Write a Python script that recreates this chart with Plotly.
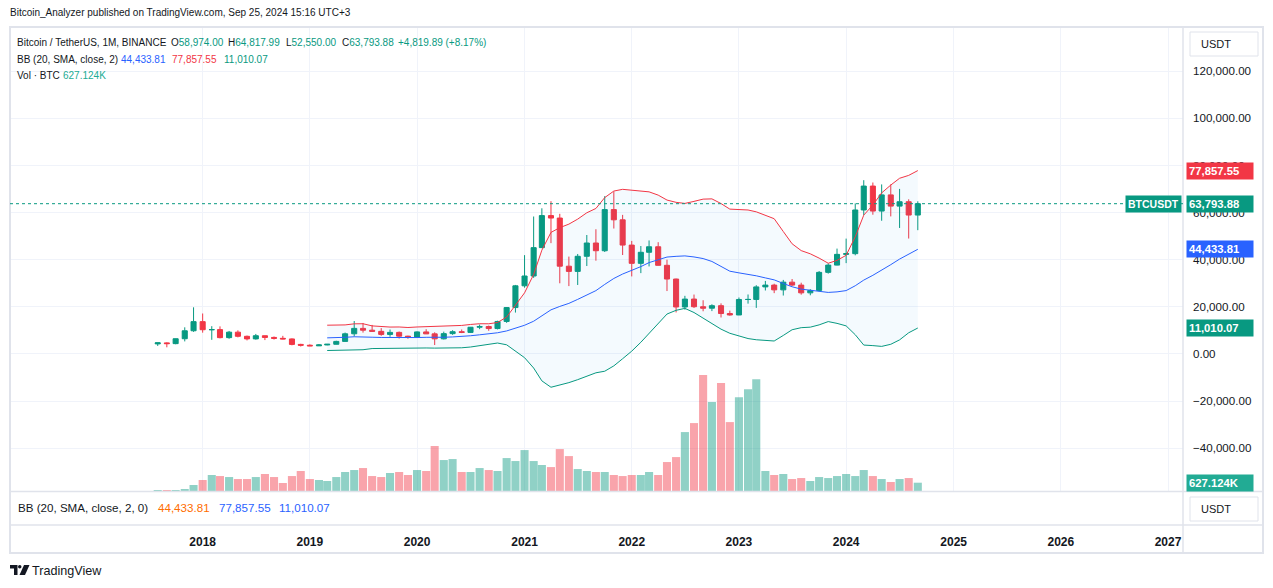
import pandas as pd
import plotly.graph_objects as go

# ============================
# Dados mensais BTC/USDT (Binance)
# ============================
months = pd.date_range("2017-08-01", "2024-09-01", freq="MS")

opens = [
    4261.48, 4689.89, 4378.49, 6463.00, 9837.00,
    13715.65, 10285.10, 10325.64, 6922.00, 9246.01, 7485.01, 6391.08, 7735.67, 7011.21, 6626.57, 6369.52, 4041.27,
    3701.23, 3434.10, 3814.26, 4102.44, 5321.94, 8555.00, 10854.10, 10080.53, 9600.90, 8284.34, 9152.61, 7540.63,
    7195.24, 9351.71, 8523.61, 6412.14, 8620.00, 9448.27, 9138.08, 11335.46, 11649.51, 10776.59, 13791.00, 19695.87,
    28923.63, 33092.97, 45134.11, 58739.46, 57697.25, 37254.24, 35045.00, 41461.84, 47100.89, 43820.01, 61299.81, 56950.56,
    46216.93, 38466.90, 43160.00, 45510.35, 37631.83, 31801.05, 19942.21, 23296.36, 20048.44, 19422.61, 20490.74, 17165.53,
    16541.77, 23125.13, 23141.57, 28465.36, 29233.20, 27210.36, 30471.99, 29232.26, 25940.77, 26962.57, 34639.78, 37723.97,
    42283.58, 42580.00, 61130.99, 71280.00, 60672.01, 67540.01, 62772.01, 64628.01, 58974.00,
]
highs = [
    4745.42, 4939.19, 6498.01, 11300.03, 19798.68,
    17176.24, 11786.01, 11710.00, 9759.82, 10020.00, 7786.69, 8491.77, 7750.00, 7410.00, 7680.00, 6615.15, 4312.99,
    4069.80, 4198.00, 4140.00, 5600.00, 9074.26, 13970.00, 13147.08, 12325.00, 10954.22, 10370.00, 9513.68, 7750.00,
    9578.00, 10500.00, 9188.00, 9460.00, 10067.00, 10380.00, 11444.00, 12468.00, 12050.85, 14100.00, 19863.16, 29300.00,
    41950.00, 58352.80, 61844.00, 64854.00, 59500.00, 41330.00, 42448.00, 50500.00, 52943.65, 67000.00, 69000.00, 59053.55,
    47990.00, 45821.00, 48189.84, 47444.11, 40023.77, 31982.97, 24668.00, 25211.32, 22799.00, 21085.00, 21480.65, 18387.95,
    23960.54, 25250.00, 29184.68, 31000.00, 29820.00, 31431.94, 31804.20, 30244.00, 27483.57, 35198.00, 38450.00, 44729.58,
    48969.48, 63913.13, 73777.00, 72797.99, 71979.00, 71997.02, 70079.99, 65659.78, 64817.99,
]
lows = [
    3400.00, 2817.00, 4110.00, 5325.01, 9380.00,
    9035.00, 6000.01, 6600.10, 6430.00, 7032.95, 5750.00, 6070.00, 5880.00, 6111.00, 6205.00, 3652.66, 3156.26,
    3349.92, 3373.10, 3689.12, 4067.00, 5316.20, 7444.58, 9060.96, 9320.00, 7710.00, 7300.00, 6515.00, 6435.00,
    6871.04, 8445.00, 3782.13, 6150.11, 8117.00, 8833.00, 8893.03, 10518.50, 9825.00, 10416.69, 13195.05, 17572.33,
    28130.00, 32296.16, 44950.53, 47044.01, 30000.00, 28805.00, 29278.00, 37332.70, 39600.00, 43283.03, 53256.64, 42000.30,
    32917.17, 34322.28, 37155.00, 37578.20, 26700.00, 17622.00, 18781.00, 19520.00, 18125.98, 18190.00, 15476.00, 16256.30,
    16499.01, 21351.07, 19549.09, 26942.82, 25811.46, 24800.00, 28861.90, 25166.00, 24901.00, 26538.66, 34097.39, 37615.86,
    38555.00, 41884.64, 59005.00, 59120.00, 56552.82, 58402.00, 53485.93, 49000.00, 52550.00,
]
closes = [
    4724.89, 4378.51, 6463.00, 9838.96, 13716.36,
    10285.10, 10326.50, 6923.91, 9246.01, 7485.01, 6390.07, 7730.93, 7011.21, 6626.57, 6371.93, 4041.32, 3702.90,
    3434.10, 3813.69, 4103.95, 5320.81, 8555.00, 10854.10, 10080.53, 9600.86, 8284.34, 9152.61, 7541.89, 7195.23,
    9352.89, 8523.61, 6410.44, 8620.00, 9448.27, 9138.55, 11335.46, 11649.51, 10776.59, 13791.00, 19695.87, 28923.63,
    33092.98, 45135.66, 58740.55, 57694.27, 37253.81, 35045.00, 41461.83, 47100.89, 43824.10, 61299.80, 56950.56, 46216.93,
    38466.90, 43160.00, 45510.34, 37630.80, 31801.04, 19942.21, 23293.32, 20050.02, 19422.61, 20490.74, 17163.64, 16542.40,
    23125.13, 23141.57, 28465.36, 29233.21, 27210.35, 30472.00, 29232.25, 25940.78, 26962.56, 34639.77, 37723.96, 42283.58,
    42580.00, 61130.98, 71280.01, 60672.00, 67540.01, 62772.01, 64628.00, 58973.99, 63793.88,
]
# volume em milhares de BTC
volumes_k = [
    75, 76, 78, 150, 455,
    830, 1210, 1130, 1055, 905, 905, 1055, 1285, 1055, 605, 1130, 1510,
    905, 830, 755, 1055, 1435, 1585, 1735, 1130, 1055, 1360, 1435, 1210,
    1585, 1510, 3400, 2340, 2415, 1435, 1435, 1735, 1585, 1510, 2490, 2265,
    3095, 2265, 1965, 1810, 3170, 2640, 1660, 1510, 1435, 1435, 1210, 1130,
    1210, 1210, 1435, 1210, 2190, 2565, 4455, 5135, 8760, 6720, 8155, 5210,
    7095, 7700, 8455, 1510, 1210, 1285, 905, 980, 755, 1055, 980, 1130,
    1285, 1130, 1585, 1130, 905, 680, 905, 980, 627.124,
]
year_ticks = [str(y) for y in range(2018, 2028)]

GREEN = "#089981"
RED = "#F23645"
BLUE = "#2962FF"
TEXT = "#131722"
GRID = "#f0f3fa"
BORDER = "#e0e3eb"
FONT = "Liberation Sans, Arial, sans-serif"

df = pd.DataFrame({"date": months, "open": opens, "high": highs, "low": lows,
                   "close": closes, "vol": [v * 1000 for v in volumes_k]})

# Bollinger (20, SMA, close, 2)
df["basis"] = df["close"].rolling(20).mean()
dev = df["close"].rolling(20).std(ddof=0)
df["upper"] = df["basis"] + 2 * dev
df["lower"] = df["basis"] - 2 * dev
bb = df.dropna(subset=["basis"])

last = df.iloc[-1]
chg = last["close"] - df.iloc[-2]["close"]
chg_pct = chg / df.iloc[-2]["close"] * 100


# conversao pixel -> coordenadas "paper"
def px_x(p):
    return (p - 10) / 1173


def px_y(p):
    return (525 - p) / 497


fig = go.Figure()

# volume (eixo sobreposto)
vol_colors = ["rgba(8,153,129,0.45)" if c >= o else "rgba(242,54,69,0.45)"
              for o, c in zip(df["open"], df["close"])]
fig.add_trace(go.Bar(x=df["date"], y=df["vol"], marker_color=vol_colors,
                     marker_line_width=0, width=27.5 * 86400000, yaxis="y2"))

# bandas
fig.add_trace(go.Scatter(x=bb["date"], y=bb["upper"], mode="lines",
                         line=dict(color=RED, width=1)))
fig.add_trace(go.Scatter(x=bb["date"], y=bb["lower"], mode="lines",
                         line=dict(color=GREEN, width=1), fill="tonexty",
                         fillcolor="rgba(33,150,243,0.05)"))
fig.add_trace(go.Scatter(x=bb["date"], y=bb["basis"], mode="lines",
                         line=dict(color=BLUE, width=1)))

# velas
fig.add_trace(go.Candlestick(
    x=df["date"], open=df["open"], high=df["high"], low=df["low"], close=df["close"],
    increasing=dict(line=dict(color=GREEN, width=1), fillcolor=GREEN),
    decreasing=dict(line=dict(color=RED, width=1), fillcolor=RED),
    whiskerwidth=0,
))

# painel inferior vazio (apenas para o eixo de tempo)
fig.add_trace(go.Scatter(x=[df["date"].iloc[0]], y=[0.5], mode="markers",
                         marker=dict(opacity=0), xaxis="x2", yaxis="y3"))

fig.update_layout(
    width=1273, height=588,
    margin=dict(l=10, r=90, t=28, b=63),
    paper_bgcolor="white", plot_bgcolor="white",
    showlegend=False, hovermode=False, boxgap=0.12,
    font=dict(family=FONT, size=12, color=TEXT),
    xaxis=dict(type="date", range=["2016-03-16", "2027-02-21"], anchor="y",
               showticklabels=False, showgrid=True, gridcolor=GRID,
               tickvals=[f"{y}-01-01" for y in year_ticks],
               zeroline=False, showline=False, rangeslider=dict(visible=False)),
    xaxis2=dict(type="date", matches="x", anchor="y3", showgrid=False,
                tickvals=[f"{y}-01-01" for y in year_ticks],
                ticktext=[f"<b>{y}</b>" for y in year_ticks],
                tickfont=dict(size=12, color=TEXT), ticks="outside", ticklen=6,
                tickcolor="rgba(0,0,0,0)", zeroline=False, showline=False),
    yaxis=dict(domain=[px_y(491), 1], range=[-58200, 138400], side="right",
               tickvals=list(range(-40000, 120001, 20000)), tickformat=",.2f",
               tickfont=dict(size=11.6, color=TEXT), gridcolor=GRID,
               zeroline=False, showline=False, ticks="", ticklabelstandoff=9),
    yaxis2=dict(overlaying="y", range=[0, 35.0e6], visible=False),
    yaxis3=dict(domain=[0, px_y(492)], range=[0, 1], visible=False),
)

shapes = []
# moldura e separadores
shapes.append(dict(type="rect", xref="paper", yref="paper", x0=px_x(10), x1=px_x(1263),
                   y0=px_y(553), y1=px_y(27), line=dict(color=BORDER, width=2)))
for yy in (491.5, 525):
    shapes.append(dict(type="line", xref="paper", yref="paper", x0=px_x(10), x1=px_x(1263),
                       y0=px_y(yy), y1=px_y(yy), line=dict(color=BORDER, width=1.5)))
shapes.append(dict(type="line", xref="paper", yref="paper", x0=1, x1=1,
                   y0=px_y(553), y1=px_y(27), line=dict(color=BORDER, width=1.5)))
# linha do ultimo preco
shapes.append(dict(type="line", xref="paper", yref="y", x0=0, x1=1,
                   y0=last["close"], y1=last["close"], line=dict(color=GREEN, width=1, dash="dot")))
# caixas USDT
for top, bot in ((32, 56), (497, 521)):
    shapes.append(dict(type="rect", xref="paper", yref="paper", x0=px_x(1190), x1=px_x(1258),
                       y0=px_y(bot), y1=px_y(top), line=dict(color=BORDER, width=1),
                       fillcolor="white"))
# logo TradingView
shapes.append(dict(type="path", xref="paper", yref="paper", fillcolor=TEXT, line=dict(width=0),
                   path=(f"M {px_x(10)},{px_y(565)} L {px_x(17.5)},{px_y(565)} L {px_x(17.5)},{px_y(575)} "
                         f"L {px_x(14)},{px_y(575)} L {px_x(14)},{px_y(568.5)} L {px_x(10)},{px_y(568.5)} Z")))
shapes.append(dict(type="circle", xref="paper", yref="paper", fillcolor=TEXT, line=dict(width=0),
                   x0=px_x(18), x1=px_x(21.5), y0=px_y(568.5), y1=px_y(565)))
shapes.append(dict(type="path", xref="paper", yref="paper", fillcolor=TEXT, line=dict(width=0),
                   path=(f"M {px_x(24)},{px_y(565)} L {px_x(29.5)},{px_y(565)} L {px_x(25)},{px_y(575)} "
                         f"L {px_x(19.5)},{px_y(575)} Z")))
fig.update_layout(shapes=shapes)


def txt(x, y, text, size=10, color=TEXT, **kw):
    fig.add_annotation(xref="paper", yref="paper", x=px_x(x), y=px_y(y), text=text,
                       showarrow=False, xanchor="left", yanchor="middle",
                       font=dict(family=FONT, size=size, color=color), **kw)


def g(v):
    return f'<span style="color:{GREEN}">{v}</span>'


txt(8, 12, "Bitcoin_Analyzer published on TradingView.com, Sep 25, 2024 15:16 UTC+3", size=10)
txt(15, 42.5, "Bitcoin / TetherUS, 1M, BINANCE")
txt(169, 42.5, "O" + g(f"{last['open']:,.2f}"))
txt(226, 42.5, "H" + g(f"{last['high']:,.2f}"))
txt(284, 42.5, "L" + g(f"{last['low']:,.2f}"))
txt(340, 42.5, "C" + g(f"{last['close']:,.2f}"))
txt(396, 42.5, g(f"+{chg:,.2f} (+{chg_pct:.2f}%)"))
txt(15, 59.5, "BB (20, SMA, close, 2)")
txt(119, 59.5, f"{last['basis']:,.2f}", color=BLUE)
txt(170, 59.5, f"{last['upper']:,.2f}", color=RED)
txt(222, 59.5, f"{last['lower']:,.2f}", color=GREEN)
txt(15, 76, "Vol · BTC")
txt(61, 76, f"{last['vol'] / 1000:.3f}K", color="#22ab94")
txt(16, 507, "BB (20, SMA, close, 2, 0)", size=11.6)
txt(156, 507, f"{last['basis']:,.2f}", size=11.6, color="#FF6D00")
txt(217, 507, f"{last['upper']:,.2f}", size=11.6, color=BLUE)
txt(277, 507, f"{last['lower']:,.2f}", size=11.6, color=BLUE)
txt(30, 570.5, "TradingView", size=12.6)
txt(1199, 44, "USDT", size=11)
txt(1199, 509, "USDT", size=11)


# etiquetas no eixo de precos
def tag(y, text, bg, yref="y"):
    fig.add_annotation(xref="paper", yref=yref, x=1, y=y, xanchor="left", yanchor="middle",
                       xshift=3, text=f"<b>{text}</b>", showarrow=False, bgcolor=bg,
                       width=62, height=12, borderpad=2, align="left",
                       font=dict(family=FONT, size=11.3, color="white"))


tag(last["upper"], f"{last['upper']:,.2f}", RED)
tag(last["close"], f"{last['close']:,.2f}", GREEN)
tag(last["basis"], f"{last['basis']:,.2f}", BLUE)
tag(last["lower"], f"{last['lower']:,.2f}", GREEN)
tag(last["vol"], f"{last['vol'] / 1000:.3f}K", "#22ab94", yref="y2")
fig.add_annotation(xref="paper", yref="y", x=1, y=last["close"], xanchor="right", yanchor="middle",
                   xshift=-1, text="<b>BTCUSDT</b>", showarrow=False, bgcolor=GREEN,
                   height=12, borderpad=2, font=dict(family=FONT, size=10.5, color="white"))

# sem margem da pagina, para o grafico ocupar a janela inteira
fig.write_html("out.html", config={"displayModeBar": False},
               post_script="document.body.style.margin='0';")
